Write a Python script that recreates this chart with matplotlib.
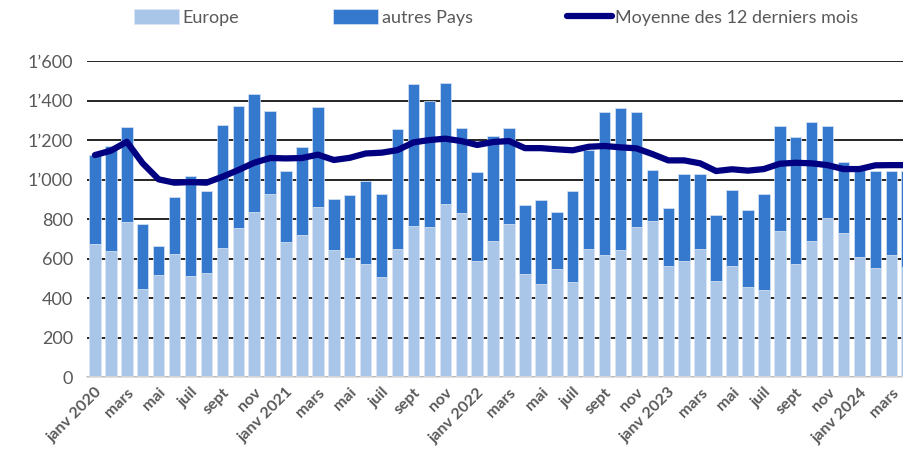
import numpy as np
import matplotlib
matplotlib.use('Agg')
from matplotlib import pyplot as plt
from matplotlib.ticker import FuncFormatter

plt.rcParams['font.family'] = ['Lato', 'DejaVu Sans']

# monthly values, janv 2020 .. avril 2024
europe = [672, 640, 785, 444, 516, 624, 513, 528, 653, 753, 835, 925,
          685, 717, 862, 643, 604, 572, 505, 648, 765, 759, 874, 832,
          589, 687, 776, 521, 473, 548, 483, 646, 616, 643, 759, 788,
          560, 589, 648, 484, 562, 454, 440, 738, 574, 687, 807, 729,
          608, 552, 618, 557]
total = [1124, 1170, 1264, 775, 662, 911, 1018, 942, 1274, 1370, 1431, 1345,
         1045, 1163, 1369, 900, 920, 992, 925, 1256, 1482, 1397, 1490, 1259,
         1040, 1220, 1259, 869, 896, 834, 940, 1149, 1340, 1364, 1340, 1048,
         857, 1029, 1029, 820, 945, 844, 925, 1272, 1213, 1289, 1271, 1089,
         1048, 1045, 1043, 1043]
moyenne = [1124, 1146, 1191, 1082, 1001, 984, 987, 984, 1014, 1048, 1085, 1109,
           1107, 1109, 1126, 1099, 1110, 1132, 1136, 1149, 1188, 1200, 1207, 1195,
           1175, 1190, 1195, 1159, 1159, 1153, 1148, 1166, 1170, 1163, 1158, 1129,
           1097, 1097, 1082, 1043, 1052, 1045, 1053, 1080, 1085, 1082, 1073, 1053,
           1053, 1072, 1073, 1073]
mois = ['janv', 'févr', 'mars', 'avr', 'mai', 'juin', 'juil', 'août', 'sept', 'oct', 'nov', 'déc']

autres = np.array(total) - np.array(europe)
x = np.arange(len(europe))

labels = []
for i in x:
    m = mois[i % 12]
    if i % 12 == 0:
        m += ' %d' % (2020 + i // 12)
    labels.append(m)

fig = plt.figure(figsize=(9.04, 4.59), dpi=100)
ax = fig.add_axes([0.0962, 0.1786, 0.9038, 0.6884])

b1 = ax.bar(x, europe, width=0.72, color='#a9c6e9', edgecolor='#dbe6f4', linewidth=0.5,
            label='Europe', zorder=2)
b2 = ax.bar(x, autres, bottom=europe, width=0.72, color='#3479cd', edgecolor='#dbe6f4',
            linewidth=0.5, label='autres Pays', zorder=2)
l1, = ax.plot(x, moyenne, color='#000080', linewidth=4.5, solid_capstyle='round',
              label='Moyenne des 12 derniers mois', zorder=3)

ax.set_ylim(0, 1600)
ax.set_xlim(-0.5, 50.8)
ax.set_yticks(np.arange(0, 1601, 200))
ax.yaxis.set_major_formatter(FuncFormatter(lambda v, p: '{:,}'.format(int(v)).replace(',', '\u2019')))
ax.grid(axis='y', color='black', linewidth=1.2, zorder=0)
ax.set_axisbelow(True)

ax.set_xticks(x[::2])
ax.set_xticklabels(labels[::2], rotation=45, ha='right', rotation_mode='anchor',
                   fontsize=11.5, fontweight='bold', color='#595959')
ax.tick_params(axis='y', labelsize=13, labelcolor='#595959', length=0, pad=10)
ax.tick_params(axis='x', length=0, pad=6)

for s in ['left', 'right', 'top']:
    ax.spines[s].set_visible(False)
ax.spines['bottom'].set_color('#d9d9d9')
ax.spines['bottom'].set_linewidth(1.2)

fig.legend(handles=[b1, b2, l1], loc='upper center', bbox_to_anchor=(0.549, 1.015), ncol=3,
           frameon=False, fontsize=13, labelcolor='#595959', handlelength=2.5,
           handleheight=0.9, handletextpad=0.2, columnspacing=5.2)

fig.savefig('out.png', dpi=100)
